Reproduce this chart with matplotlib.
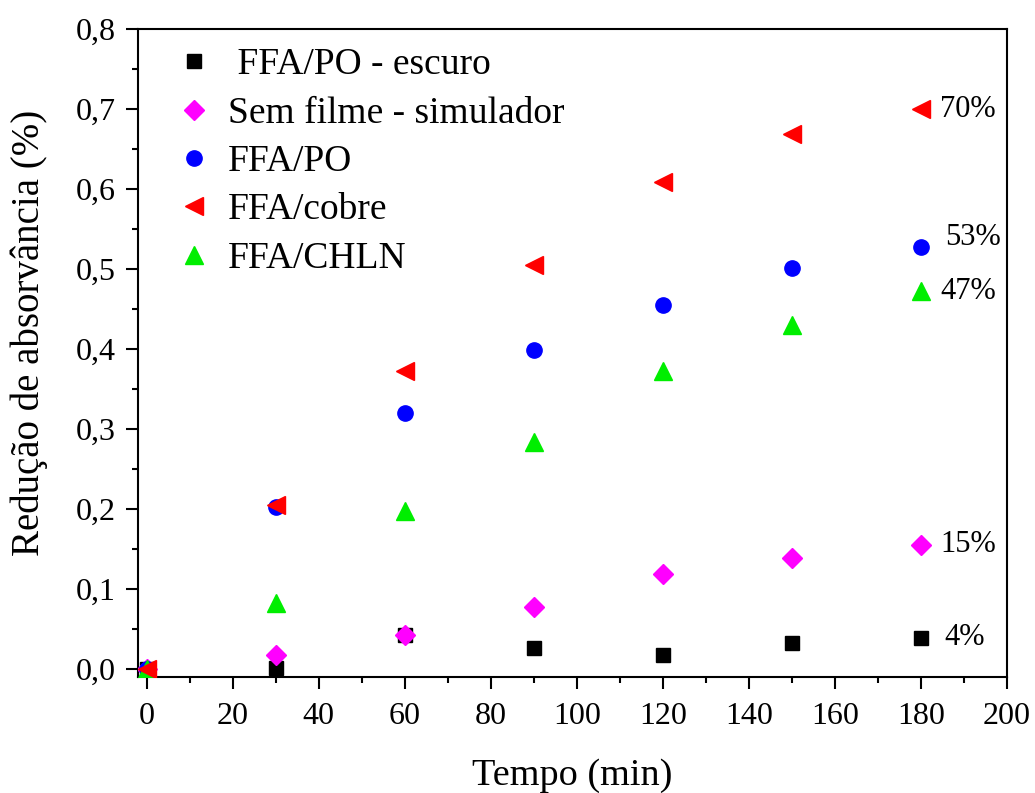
import matplotlib
matplotlib.use('Agg')
from matplotlib import pyplot as plt
from matplotlib.ticker import MultipleLocator, FuncFormatter

plt.rcParams['font.family'] = ['Liberation Serif', 'DejaVu Serif']

tempo = [0, 30, 60, 90, 120, 150, 180]

escuro = [0.0, 0.001, 0.043, 0.026, 0.018, 0.032, 0.039]
sem_filme = [0.0, 0.018, 0.043, 0.078, 0.119, 0.139, 0.155]
ffa_po = [0.0, 0.202, 0.320, 0.399, 0.455, 0.501, 0.528]
ffa_cobre = [0.0, 0.205, 0.373, 0.505, 0.609, 0.669, 0.700]
ffa_chln = [0.0, 0.082, 0.197, 0.284, 0.372, 0.430, 0.472]

rotulos = [' FFA/PO - escuro', 'Sem filme - simulador', 'FFA/PO', 'FFA/cobre', 'FFA/CHLN']
finais = ['4%', '15%', '53%', '70%', '47%']

fig = plt.figure(figsize=(10.35, 7.93), dpi=100)
ax = fig.add_axes([0.1333, 0.1463, 0.8397, 0.8171])

series = [escuro, sem_filme, ffa_po, ffa_cobre, ffa_chln]
marcadores = ['s', 'D', 'o', '<', '^']
cores = ['black', '#ff00ff', '#0000ff', '#ff0000', '#00ee00']
tamanhos = [10, 10.5, 11, 13, 13]
ordem = [2, 3, 4, 6, 5]

for y, m, c, s, lab, z in zip(series, marcadores, cores, tamanhos, rotulos, ordem):
    ax.plot(tempo, y, linestyle='none', marker=m, color=c, markersize=s, label=lab, zorder=z)

# porcentagens finais
for y, txt in zip(series, finais):
    dx = 185.5 if txt in ('4%', '53%') else 184.5
    dy = y[-1] + (0.012 if txt == '53%' else 0.0)
    ax.text(dx, dy, txt, fontsize=22, ha='left', va='center')

ax.set_xlim(-2, 200)
ax.set_ylim(-0.01, 0.8)
ax.xaxis.set_major_locator(MultipleLocator(20))
ax.xaxis.set_minor_locator(MultipleLocator(10))
ax.yaxis.set_major_locator(MultipleLocator(0.1))
ax.yaxis.set_minor_locator(MultipleLocator(0.05))
ax.yaxis.set_major_formatter(FuncFormatter(lambda v, p: f'{v:.1f}'.replace('.', ',')))

ax.tick_params(which='major', direction='out', length=8.8, width=1.5, labelsize=23, pad=7)
ax.tick_params(axis='x', which='major', pad=9)
ax.tick_params(which='minor', direction='out', length=4.5, width=1.5)
for sp in ax.spines.values():
    sp.set_linewidth(1.5)

ax.set_xlabel('Tempo (min)', fontsize=27.5, labelpad=20)
ax.set_ylabel('Redução de absorvância (%)', fontsize=28)
ax.yaxis.set_label_coords(-0.104, 0.531)

ax.legend(loc='upper left', bbox_to_anchor=(0.019, 1.0), frameon=False, fontsize=27,
          handletextpad=0.37, labelspacing=0.37, handlelength=1.1, borderaxespad=0.1)

fig.savefig('out.png', dpi=100)
